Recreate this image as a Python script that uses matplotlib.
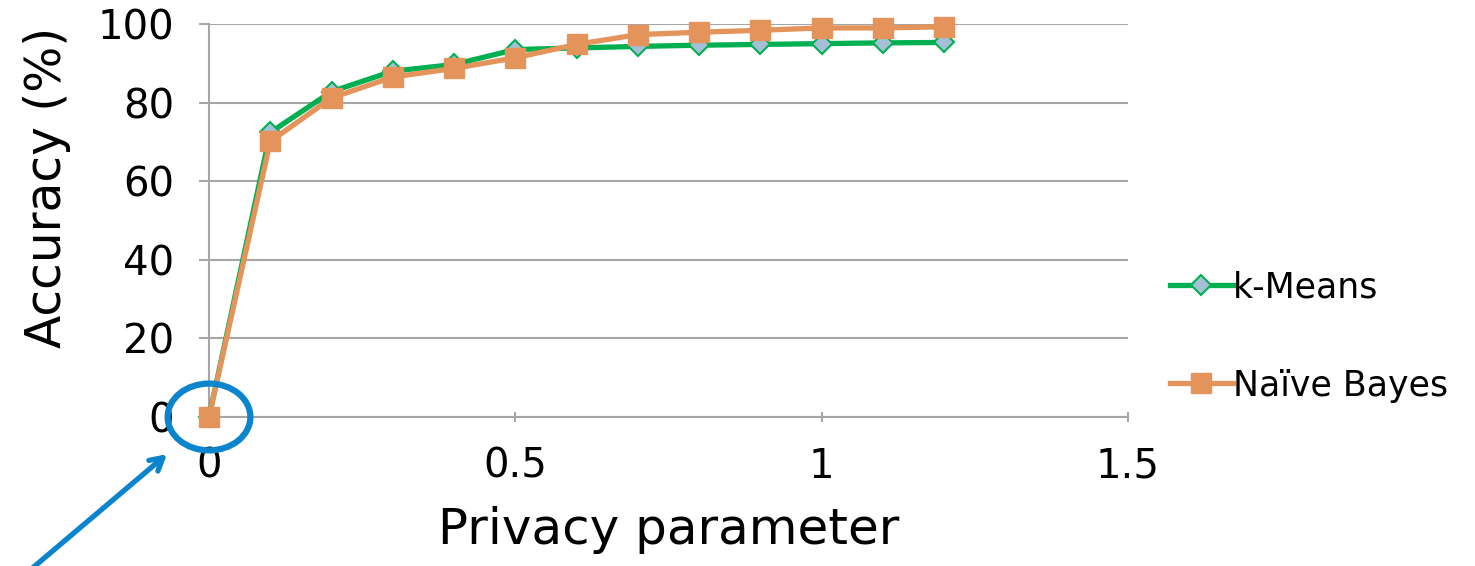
import matplotlib
matplotlib.use("Agg")
import matplotlib.pyplot as plt
from matplotlib.patches import Ellipse

# privacy parameter values
privacy = [0, 0.1, 0.2, 0.3, 0.4, 0.5, 0.6, 0.7, 0.8, 0.9, 1.0, 1.1, 1.2]
# accuracy (%)
kmeans = [0, 72.4, 82.8, 88.0, 89.7, 93.5, 93.9, 94.3, 94.6, 94.8, 95.0, 95.2, 95.3]
naive_bayes = [0, 70.1, 81.2, 86.5, 88.7, 91.4, 94.8, 97.3, 97.9, 98.4, 99.0, 99.0, 99.3]

x_ticks = [0, 0.5, 1, 1.5]
x_tick_labels = ["0", "0.5", "1", "1.5"]
y_ticks = [0, 20, 40, 60, 80, 100]

plt.rcParams["font.family"] = ["DejaVu Sans"]

fig = plt.figure(figsize=(14.75, 5.66), dpi=100)
ax = fig.add_axes([0.1417, 0.2633, 0.6230, 0.6943])

green = "#00B050"
orange = "#E4935A"
grid_gray = "#A6A6A6"

ax.plot(privacy, kmeans, color=green, lw=3.8, marker="D", markersize=10,
        markerfacecolor="#A5BFD9", markeredgecolor=green, markeredgewidth=1.5,
        label="k-Means", zorder=3, clip_on=False)
ax.plot(privacy, naive_bayes, color=orange, lw=3.8, marker="s", markersize=14,
        markerfacecolor=orange, markeredgecolor=orange,
        label="Naïve Bayes", zorder=4, clip_on=False)

ax.set_xlim(0, 1.5)
ax.set_ylim(0, 100)
ax.set_xticks(x_ticks)
ax.set_xticklabels(x_tick_labels)
ax.set_yticks(y_ticks)
ax.yaxis.grid(True, color=grid_gray, lw=1.5)
ax.set_axisbelow(True)

for side in ["top", "right"]:
    ax.spines[side].set_visible(False)
for side in ["left", "bottom"]:
    ax.spines[side].set_color(grid_gray)
    ax.spines[side].set_linewidth(1.5)

ax.tick_params(axis="both", colors=grid_gray, labelcolor="black", labelsize=29,
               width=1.5, length=7)
ax.tick_params(axis="x", direction="inout", pad=18)
ax.tick_params(axis="y", direction="out", pad=18)

ax.set_xlabel("Privacy parameter", fontsize=36, labelpad=14)
ax.set_ylabel("Accuracy (%)", fontsize=35)
ax.yaxis.set_label_coords(-0.15, 0.585)

leg = ax.legend(loc="center left", bbox_to_anchor=(1.012, 0.205), frameon=False,
                fontsize=25, handlelength=1.8, handletextpad=0.0,
                labelspacing=1.85)

# highlight around the origin point
blue = "#0A84CC"
circ = Ellipse((privacy[0], naive_bayes[0]), width=0.135, height=17.0,
               fill=False, edgecolor=blue, lw=4.5, clip_on=False, zorder=5)
ax.add_patch(circ)
ax.annotate("", xy=(-0.065, -9), xytext=(-0.3, -40),
            arrowprops=dict(arrowstyle="->,head_length=0.9,head_width=0.5",
                            color=blue, lw=3.8),
            annotation_clip=False, zorder=5)

fig.savefig("out.png", dpi=100)
